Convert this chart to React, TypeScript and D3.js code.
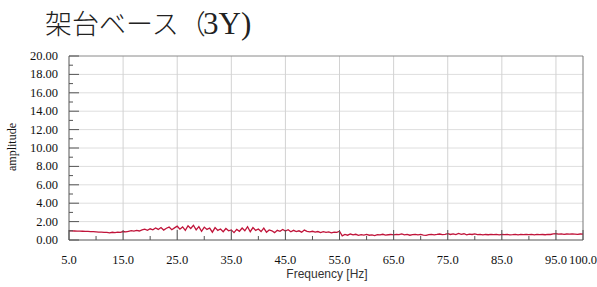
import React, { useRef, useEffect } from 'react';
import * as d3 from 'd3';

// frequency step 0.5 Hz, 5.0 .. 100.0
const FREQ_START = 5;
const FREQ_STEP = 0.5;

// amplitude (0.5 Hz steps)
const amplitude: number[] = [
  1.00, 0.99, 0.98, 0.97, 0.96, 0.95, 0.94, 0.93, 0.92, 0.90,
  0.88, 0.86, 0.85, 0.83, 0.82, 0.78, 0.84, 0.80, 0.86, 0.83,
  0.92, 0.88, 0.95, 1.02, 0.96, 1.05, 0.98, 1.10, 1.18, 1.05,
  1.22, 1.10, 1.30, 1.15, 1.35, 1.08, 1.28, 1.40, 1.12, 1.32,
  1.50, 1.18, 1.42, 1.05, 1.55, 1.25, 1.60, 1.10, 1.45, 0.95,
  1.40, 1.15, 1.30, 0.85, 1.35, 1.05, 1.20, 0.90, 1.25, 1.00,
  1.10, 0.80, 1.15, 0.95, 1.30, 1.00, 1.45, 0.90, 1.35, 1.05,
  1.20, 0.92, 1.30, 0.85, 1.10, 1.00, 0.80, 1.05, 0.95, 1.15,
  0.98, 1.12, 0.90, 1.05, 0.92, 1.00, 0.85, 1.08, 0.95, 0.88,
  0.95, 0.85, 0.92, 0.80, 0.90, 0.84, 0.88, 0.78, 0.86, 0.82,
  0.95, 0.45, 0.60, 0.52, 0.65, 0.55, 0.62, 0.50, 0.58, 0.54,
  0.60, 0.52, 0.56, 0.48, 0.58, 0.55, 0.62, 0.53, 0.57, 0.60,
  0.55, 0.62, 0.58, 0.66, 0.56, 0.60, 0.52, 0.58, 0.62, 0.55,
  0.60, 0.54, 0.50, 0.58, 0.62, 0.56, 0.60, 0.65, 0.58, 0.62,
  0.70, 0.60, 0.66, 0.58, 0.72, 0.62, 0.68, 0.56, 0.64, 0.60,
  0.66, 0.58, 0.62, 0.55, 0.60, 0.57, 0.62, 0.58, 0.60, 0.56,
  0.62, 0.58, 0.60, 0.55, 0.58, 0.62, 0.56, 0.60, 0.58, 0.62,
  0.58, 0.60, 0.56, 0.62, 0.58, 0.60, 0.57, 0.62, 0.60, 0.66,
  0.68, 0.64, 0.66, 0.62, 0.65, 0.63, 0.66, 0.64, 0.62, 0.65,
  0.64,
];

const xTicks = [5, 15, 25, 35, 45, 55, 65, 75, 85, 95, 100];
const xMinorTicks = [10, 20, 30, 40, 50, 60, 70, 80, 90];
const yTicks = [0, 2, 4, 6, 8, 10, 12, 14, 16, 18, 20];
const yMinorTicks = [1, 3, 5, 7, 9, 11, 13, 15, 17, 19];

const TITLE = '架台ベース';
const X_LABEL = 'Frequency [Hz]';
const Y_LABEL = 'amplitude';

const W = 597;
const H = 287;
const SERIF = '"Liberation Serif", "DejaVu Serif", serif';

const App: React.FC = () => {
  const svgRef = useRef<SVGSVGElement | null>(null);

  useEffect(() => {
    const margin = { top: 56, right: 14, bottom: 47, left: 69 };
    const w = W - margin.left - margin.right;
    const h = H - margin.top - margin.bottom;

    const svg = d3.select(svgRef.current);
    svg.selectAll('*').remove();

    // title
    const title = svg.append('text').attr('y', 34).attr('fill', '#222');
    title.append('tspan').attr('x', 45)
      .style('font-family', '"Noto Sans CJK JP"').style('font-weight', 300)
      .style('font-size', '27px').text(TITLE + '（');
    title.append('tspan').attr('x', 203)
      .style('font-family', SERIF).style('font-size', '31px').text('3Y)');

    const g = svg.append('g').attr('transform', `translate(${margin.left},${margin.top})`);

    const x = d3.scaleLinear().domain([5, 100]).range([0, w]);
    const y = d3.scaleLinear().domain([0, 20]).range([h, 0]);

    // grid
    g.append('g').selectAll('line')
      .data(yTicks.filter(v => v > 0 && v < 20))
      .enter().append('line')
      .attr('x1', 0).attr('x2', w)
      .attr('y1', (d: number) => y(d)).attr('y2', (d: number) => y(d))
      .attr('stroke', '#dedede');
    g.append('g').selectAll('line')
      .data(xTicks.filter(v => v > 5 && v < 100))
      .enter().append('line')
      .attr('x1', (d: number) => x(d)).attr('x2', (d: number) => x(d))
      .attr('y1', 0).attr('y2', h)
      .attr('stroke', '#d2d2d2');

    // frame
    g.append('line').attr('x1', 0).attr('x2', w).attr('y1', 0).attr('y2', 0).attr('stroke', '#8a8a8a');
    g.append('line').attr('x1', w).attr('x2', w).attr('y1', 0).attr('y2', h).attr('stroke', '#777');

    // data line
    const line = d3.line<number>()
      .x((_, i) => x(FREQ_START + i * FREQ_STEP))
      .y(d => y(d));
    g.append('path')
      .datum(amplitude)
      .attr('d', line)
      .attr('fill', 'none')
      .attr('stroke', '#c0143a')
      .attr('stroke-width', 1.3);

    // axes (ticks drawn inward)
    g.append('line').attr('x1', 0).attr('x2', 0).attr('y1', 0).attr('y2', h).attr('stroke', '#555');
    g.append('line').attr('x1', 0).attr('x2', w).attr('y1', h).attr('y2', h).attr('stroke', '#555');

    g.append('g').selectAll('line')
      .data(yTicks)
      .enter().append('line')
      .attr('x1', 0).attr('x2', 10)
      .attr('y1', (d: number) => y(d)).attr('y2', (d: number) => y(d))
      .attr('stroke', '#555');
    g.append('g').selectAll('line')
      .data(yMinorTicks)
      .enter().append('line')
      .attr('x1', 0).attr('x2', 4)
      .attr('y1', (d: number) => y(d)).attr('y2', (d: number) => y(d))
      .attr('stroke', '#555');
    g.append('g').selectAll('line')
      .data(xTicks)
      .enter().append('line')
      .attr('x1', (d: number) => x(d)).attr('x2', (d: number) => x(d))
      .attr('y1', h - 10).attr('y2', h)
      .attr('stroke', '#555');
    g.append('g').selectAll('line')
      .data(xMinorTicks)
      .enter().append('line')
      .attr('x1', (d: number) => x(d)).attr('x2', (d: number) => x(d))
      .attr('y1', h - 4).attr('y2', h)
      .attr('stroke', '#555');

    // tick labels
    g.append('g').selectAll('text')
      .data(yTicks)
      .enter().append('text')
      .attr('x', -11)
      .attr('y', (d: number) => y(d) + 4)
      .attr('text-anchor', 'end')
      .style('font-family', SERIF).style('font-size', '12.5px')
      .attr('fill', '#111')
      .text((d: number) => d3.format('.2f')(d));
    g.append('g').selectAll('text')
      .data(xTicks)
      .enter().append('text')
      .attr('x', (d: number) => x(d))
      .attr('y', h + 24)
      .attr('text-anchor', 'middle')
      .style('font-family', SERIF).style('font-size', '12.5px')
      .attr('fill', '#111')
      .text((d: number) => d3.format('.1f')(d));

    // axis titles
    svg.append('text')
      .attr('x', 327).attr('y', 278)
      .attr('text-anchor', 'middle')
      .style('font-family', '"Liberation Sans", Arial, sans-serif')
      .style('font-size', '12px')
      .attr('fill', '#333')
      .text(X_LABEL);
    svg.append('text')
      .attr('transform', 'translate(16,147) rotate(-90)')
      .attr('text-anchor', 'middle')
      .style('font-family', SERIF)
      .style('font-size', '12px')
      .attr('fill', '#111')
      .text(Y_LABEL);
  }, []);

  return (
    <svg
      ref={svgRef}
      width={W}
      height={H}
      style={{ position: 'absolute', left: 0, top: 0, background: '#fff' }}
    />
  );
};

export default App;
